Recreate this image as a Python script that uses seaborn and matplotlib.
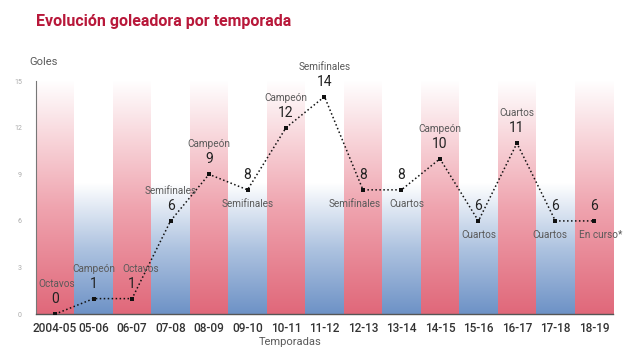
import numpy as np
import pandas as pd
import matplotlib
matplotlib.use("Agg")
import matplotlib.pyplot as plt
from matplotlib.colors import LinearSegmentedColormap
import seaborn as sns

# Datos
temporadas = ['2004-05', '05-06', '06-07', '07-08', '08-09', '09-10', '10-11', '11-12',
              '12-13', '13-14', '14-15', '15-16', '16-17', '17-18', '18-19']
goles = [0, 1, 1, 6, 9, 8, 12, 14, 8, 8, 10, 6, 11, 6, 6]
rondas = ['Octavos', 'Campeón', 'Octavos', 'Semifinales', 'Campeón', 'Semifinales', 'Campeón',
          'Semifinales', 'Semifinales', 'Cuartos', 'Campeón', 'Cuartos', 'Cuartos', 'Cuartos',
          'En curso*']
ronda_arriba = [True, True, True, True, True, False, True, True, False, False, True, False,
                True, False, False]
# pequeño desplazamiento horizontal de las etiquetas para que no se pisen
ronda_dx = [2, 0, 9, 0, 0, 0, 0, 0, -8, 5, 0, 0, 0, -6, 7]

df = pd.DataFrame({'pos': range(len(temporadas)), 'goles': goles})

sns.set_style('white')
plt.rcParams['font.family'] = ['Roboto', 'DejaVu Sans']

fig = plt.figure(figsize=(6.4, 3.51), dpi=100)
ax = fig.add_axes([0.056, 0.105, 0.902, 0.664])

# Bandas con degradado
rojo = LinearSegmentedColormap.from_list('rojo', [(0, '#E0687A'), (0.45, '#EFA3AE'), (1, '#FFFFFF')])
azul = LinearSegmentedColormap.from_list('azul', [(0, '#6E92C6'), (0.28, '#AEC3E0'), (0.56, '#FFFFFF'), (1, '#FFFFFF')])
grad = np.linspace(0, 1, 256).reshape(-1, 1)
for i in range(len(temporadas)):
    cmap = rojo if i % 2 == 0 else azul
    ax.imshow(grad, cmap=cmap, origin='lower', aspect='auto',
              extent=(i - 0.5, i + 0.5, 0, 15), zorder=0)

sns.lineplot(data=df, x='pos', y='goles', ax=ax, color='#111111', linestyle=(0, (1, 1.6)),
             linewidth=1.1, marker='s', markersize=3.5, markeredgewidth=0, zorder=3)

for i, (g, r, up, dx) in enumerate(zip(goles, rondas, ronda_arriba, ronda_dx)):
    ax.annotate(str(g), (i, g), xytext=(0, 15), textcoords='offset pixels', ha='center',
                va='center', fontsize=10, color='#222222', annotation_clip=False)
    dy = 30 if up else -14
    ax.annotate(r, (i, g), xytext=(dx, dy), textcoords='offset pixels', ha='center',
                va='center', fontsize=7.2, color='#5a5a5a', annotation_clip=False)

ax.set_xlim(-0.5, len(temporadas) - 0.5)
ax.set_ylim(0, 15)
ax.set_xticks(range(len(temporadas)))
ax.set_xticklabels(temporadas, fontsize=8.5, color='#333333', fontweight='medium')
ax.set_yticks([0, 3, 6, 9, 12, 15])
ax.tick_params(axis='y', labelsize=5, labelcolor='#aaaaaa', length=0, pad=10)
ax.tick_params(axis='x', length=0, pad=6)
ax.set_xlabel('')
ax.set_ylabel('')

for s in ['top', 'right']:
    ax.spines[s].set_visible(False)
ax.spines['left'].set_color('#777777')
ax.spines['left'].set_linewidth(0.8)
ax.spines['bottom'].set_color('#555555')
ax.spines['bottom'].set_linewidth(1.0)

fig.text(0.453, 0.025, 'Temporadas', fontsize=8, color='#5a5a5a', ha='center', va='center')
fig.text(0.046, 0.823, 'Goles', fontsize=8, color='#5a5a5a', ha='left', va='center')
fig.text(0.057, 0.94, 'Evolución goleadora por temporada', fontsize=11.5, fontweight='bold',
         color='#B8183A', ha='left', va='center')

fig.savefig('out.png', dpi=100)
